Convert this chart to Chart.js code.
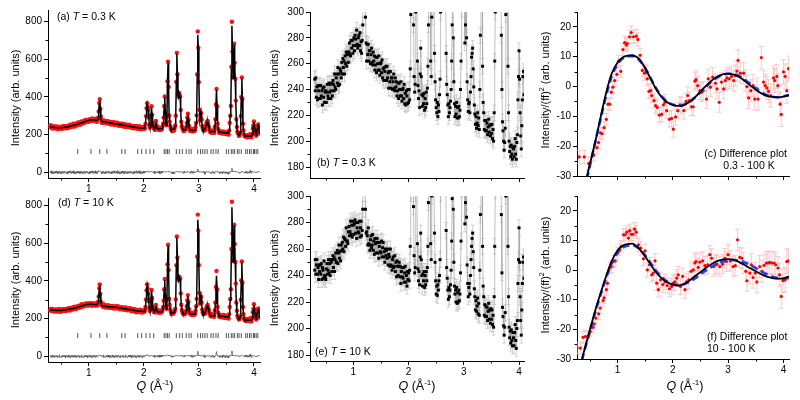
<!DOCTYPE html>
<html>
<head>
<meta charset="utf-8">
<script src="https://cdn.jsdelivr.net/npm/chart.js@4.4.1/dist/chart.umd.min.js"></script>
<style>
  html, body { margin: 0; padding: 0; background: #fff; }
  #fig { position: relative; width: 800px; height: 400px; overflow: hidden; }
  #fig canvas { position: absolute; }
</style>
</head>
<body>
<div id="fig"></div>
<script>
// measurement grid Q (1/Å)
const qGrid = [
  0.30,0.31,0.32,0.33,0.34,0.35,0.36,0.37,0.38,0.39,
  0.40,0.41,0.42,0.43,0.44,0.45,0.46,0.47,0.48,0.49,
  0.50,0.51,0.52,0.53,0.54,0.55,0.56,0.57,0.58,0.59,
  0.60,0.61,0.62,0.63,0.64,0.65,0.66,0.67,0.68,0.69,
  0.70,0.71,0.72,0.73,0.74,0.75,0.76,0.77,0.78,0.79,
  0.80,0.81,0.82,0.83,0.84,0.85,0.86,0.87,0.88,0.89,
  0.90,0.91,0.92,0.93,0.94,0.95,0.96,0.97,0.98,0.99,
  1.00,1.01,1.02,1.03,1.04,1.05,1.06,1.07,1.08,1.09,
  1.10,1.11,1.12,1.13,1.14,1.15,1.16,1.17,1.18,1.19,
  1.20,1.21,1.22,1.23,1.24,1.25,1.26,1.27,1.28,1.29,
  1.30,1.31,1.32,1.33,1.34,1.35,1.36,1.37,1.38,1.39,
  1.40,1.41,1.42,1.43,1.44,1.45,1.46,1.47,1.48,1.49,
  1.50,1.51,1.52,1.53,1.54,1.55,1.56,1.57,1.58,1.59,
  1.60,1.61,1.62,1.63,1.64,1.65,1.66,1.67,1.68,1.69,
  1.70,1.71,1.72,1.73,1.74,1.75,1.76,1.77,1.78,1.79,
  1.80,1.81,1.82,1.83,1.84,1.85,1.86,1.87,1.88,1.89,
  1.90,1.91,1.92,1.93,1.94,1.95,1.96,1.97,1.98,1.99,
  2.00,2.01,2.02,2.03,2.04,2.05,2.06,2.07,2.08,2.09,
  2.10,2.11,2.12,2.13,2.14,2.15,2.16,2.17,2.18,2.19,
  2.20,2.21,2.22,2.23,2.24,2.25,2.26,2.27,2.28,2.29,
  2.30,2.31,2.32,2.33,2.34,2.35,2.36,2.37,2.38,2.39,
  2.40,2.41,2.42,2.43,2.44,2.45,2.46,2.47,2.48,2.49,
  2.50,2.51,2.52,2.53,2.54,2.55,2.56,2.57,2.58,2.59,
  2.60,2.61,2.62,2.63,2.64,2.65,2.66,2.67,2.68,2.69,
  2.70,2.71,2.72,2.73,2.74,2.75,2.76,2.77,2.78,2.79,
  2.80,2.81,2.82,2.83,2.84,2.85,2.86,2.87,2.88,2.89,
  2.90,2.91,2.92,2.93,2.94,2.95,2.96,2.97,2.98,2.99,
  3.00,3.01,3.02,3.03,3.04,3.05,3.06,3.07,3.08,3.09,
  3.10,3.11,3.12,3.13,3.14,3.15,3.16,3.17,3.18,3.19,
  3.20,3.21,3.22,3.23,3.24,3.25,3.26,3.27,3.28,3.29,
  3.30,3.31,3.32,3.33,3.34,3.35,3.36,3.37,3.38,3.39,
  3.40,3.41,3.42,3.43,3.44,3.45,3.46,3.47,3.48,3.49,
  3.50,3.51,3.52,3.53,3.54,3.55,3.56,3.57,3.58,3.59,
  3.60,3.61,3.62,3.63,3.64,3.65,3.66,3.67,3.68,3.69,
  3.70,3.71,3.72,3.73,3.74,3.75,3.76,3.77,3.78,3.79,
  3.80,3.81,3.82,3.83,3.84,3.85,3.86,3.87,3.88,3.89,
  3.90,3.91,3.92,3.93,3.94,3.95,3.96,3.97,3.98,3.99,
  4.00,4.01,4.02,4.03,4.04,4.05,4.06,4.07,4.08,4.09,
  4.10];

// T = 0.3 K observed / calculated
const obs03 = [
  248,239,249,234,242,232,243,239,233,243,
  233,243,235,239,228,241,234,242,230,238,
  239,230,238,244,235,233,245,238,244,233,
  239,245,235,247,244,239,252,242,240,249,
  252,245,257,243,252,244,256,254,249,261,
  252,264,257,262,252,266,260,269,258,267,
  269,261,269,276,267,266,278,272,278,268,
  274,280,270,282,279,274,286,275,272,280,
  282,274,284,270,277,268,278,290,322,368,
  388,338,296,276,262,275,267,275,262,270,
  270,260,267,272,261,259,269,262,266,255,
  259,265,253,265,260,255,266,255,251,260,
  261,253,263,249,256,247,257,254,247,258,
  247,258,249,253,241,254,246,254,241,249,
  249,240,246,252,241,239,249,242,246,235,
  239,245,233,245,240,235,246,235,231,240,
  241,233,244,229,237,228,239,235,229,240,
  230,240,232,256,298,340,366,345,332,290,
  250,238,244,300,350,306,262,243,233,239,
  226,252,272,250,236,227,235,229,237,224,
  233,226,238,229,241,258,290,352,402,318,
  262,250,296,482,586,452,302,268,246,232,
  226,222,230,219,228,223,236,248,300,480,
  633,520,412,400,421,408,403,330,268,244,
  236,228,219,229,222,226,231,240,262,290,
  311,280,246,229,219,227,221,230,218,226,
  218,227,219,224,240,262,302,520,746,660,
  478,330,276,290,315,280,246,232,223,229,
  230,222,238,250,265,268,272,256,242,228,
  221,213,219,210,214,222,212,218,209,240,
  282,360,442,350,258,230,222,209,216,208,
  216,208,214,205,211,217,207,212,204,213,
  206,213,202,209,200,222,262,300,352,560,
  798,640,502,560,682,580,496,380,282,240,
  215,208,200,193,199,210,298,400,503,390,
  258,222,200,192,196,188,197,190,186,195,
  194,188,196,202,190,186,199,205,232,250,
  270,248,222,204,194,212,232,250,254,236,
  205];
const calc03 = [
  243,242,241,240,240,239,239,238,238,237,
  237,236,236,236,236,236,236,236,236,236,
  236,236,237,237,238,238,239,239,240,240,
  241,241,242,242,243,243,244,245,246,246,
  247,248,249,249,250,251,252,253,254,255,
  256,257,258,259,260,261,262,263,264,265,
  266,267,268,269,270,271,272,273,274,275,
  276,276,277,277,278,278,278,278,278,277,
  277,277,276,276,275,275,275,282,318,362,
  384,336,294,274,270,270,269,269,268,268,
  267,266,266,265,264,264,263,263,262,262,
  261,261,260,260,259,259,258,258,257,257,
  256,256,255,255,254,254,253,256,254,252,
  251,251,250,250,249,249,248,248,247,247,
  246,246,245,245,244,244,243,243,242,242,
  241,241,240,240,239,239,238,238,237,237,
  236,236,236,235,235,235,235,234,234,234,
  234,234,234,254,296,338,360,342,328,288,
  248,236,240,298,345,304,260,241,234,233,
  234,250,268,248,234,231,231,231,231,231,
  231,231,231,232,236,256,288,348,398,316,
  260,248,294,478,580,448,298,264,244,232,
  228,227,227,227,228,230,234,246,298,476,
  628,518,408,398,418,406,400,328,266,242,
  234,228,225,224,224,226,230,240,260,288,
  306,278,244,228,224,223,222,222,222,222,
  222,222,222,223,238,260,298,516,728,656,
  476,328,274,288,312,278,244,230,224,222,
  228,232,236,248,262,266,268,254,240,226,
  220,218,217,216,216,216,215,215,215,238,
  278,356,438,346,256,228,220,214,213,213,
  212,212,212,211,211,211,210,210,210,210,
  209,209,209,209,210,222,258,298,348,556,
  776,636,498,556,676,576,492,378,280,238,
  212,205,200,198,199,212,296,398,498,388,
  256,220,200,195,193,192,192,192,192,192,
  192,192,192,192,192,191,193,200,228,248,
  266,246,224,204,196,210,230,248,250,234,
  204];

// T = 10 K observed / calculated
const obs10 = [
  244,252,241,248,252,241,246,237,248,243,
  248,241,249,237,246,244,238,251,240,239,
  237,245,249,241,244,252,242,249,240,252,
  250,243,252,255,246,254,243,252,257,250,
  250,259,249,257,263,253,258,251,263,259,
  265,260,269,258,268,267,262,276,266,266,
  264,273,277,270,273,281,271,278,269,281,
  278,271,279,282,272,280,268,276,280,273,
  272,281,269,276,281,270,274,290,318,362,
  382,332,290,272,273,270,263,276,264,263,
  259,267,270,261,263,271,259,266,256,268,
  264,257,265,268,257,265,253,262,265,258,
  257,266,254,261,265,254,258,250,260,255,
  259,253,260,248,256,254,247,260,248,247,
  244,252,254,246,247,255,243,250,239,251,
  247,240,247,250,239,247,234,243,246,239,
  238,246,235,242,247,235,240,232,243,237,
  242,236,244,262,302,350,382,360,334,292,
  255,242,246,302,352,310,264,245,236,243,
  233,254,272,252,240,232,241,236,243,231,
  240,233,243,236,246,262,295,356,410,322,
  264,252,300,488,592,458,306,272,250,236,
  226,232,225,233,229,236,240,252,302,484,
  636,524,416,405,423,412,414,334,274,246,
  238,229,222,231,224,229,233,244,266,298,
  325,290,250,232,226,229,220,231,219,227,
  220,229,221,226,242,266,305,530,752,668,
  484,336,279,295,316,284,248,234,224,231,
  234,226,240,252,262,268,272,258,246,230,
  224,214,221,213,217,223,211,219,210,244,
  286,368,453,356,262,232,224,210,218,209,
  217,209,216,206,213,219,207,214,204,215,
  207,214,203,210,201,224,262,304,356,570,
  820,652,506,566,699,596,501,386,286,242,
  216,209,202,195,201,212,300,404,503,392,
  262,224,201,193,198,189,199,191,187,197,
  193,187,197,203,191,185,200,206,234,252,
  276,250,224,206,195,214,234,250,254,238,
  206];
const calc10 = [
  247,246,246,246,245,245,245,244,244,244,
  244,243,243,243,243,243,243,243,243,243,
  243,243,244,244,245,245,246,246,247,247,
  248,248,249,249,250,250,251,251,252,252,
  253,253,254,255,256,257,257,258,259,260,
  261,262,263,264,265,266,267,268,269,270,
  270,271,272,273,274,274,275,275,276,276,
  276,276,276,276,276,276,276,275,275,275,
  275,275,274,274,274,274,274,286,314,356,
  378,328,288,272,269,269,268,268,267,267,
  265,265,265,264,264,264,263,263,263,263,
  262,262,262,262,261,261,261,261,260,260,
  260,260,259,259,258,258,257,257,256,256,
  255,255,254,254,253,253,252,252,251,251,
  250,250,249,249,248,248,247,247,246,246,
  245,245,244,244,243,243,242,242,241,241,
  241,240,240,240,240,239,239,239,239,238,
  238,238,239,258,298,346,374,354,330,290,
  252,240,244,298,348,306,262,244,238,238,
  238,252,268,250,238,236,236,236,236,236,
  236,236,237,238,240,260,292,352,404,320,
  262,250,298,482,586,454,302,268,246,234,
  230,229,229,230,232,234,238,250,300,480,
  630,520,412,402,420,410,410,332,270,244,
  236,228,226,226,226,227,230,242,264,294,
  320,286,248,230,225,224,223,223,223,223,
  223,223,223,224,240,262,302,524,725,662,
  480,332,276,292,312,282,246,232,224,222,
  230,232,238,250,260,266,268,256,244,228,
  221,218,217,216,216,216,215,215,215,242,
  282,362,428,352,260,230,221,215,214,213,
  213,212,212,212,212,211,211,211,210,210,
  210,209,209,208,209,220,260,300,352,566,
  791,648,502,562,694,592,497,383,283,240,
  214,206,200,197,198,210,298,400,498,390,
  260,222,200,194,193,192,192,192,191,191,
  191,191,191,191,191,191,194,202,231,250,
  272,248,225,206,197,212,232,248,250,236,
  204];

// Bragg reflection positions
const braggQ = [0.80,1.04,1.20,1.33,1.60,1.66,1.89,1.96,2.04,2.11,2.18,2.37,2.40,2.43,2.46,
  2.59,2.65,2.70,2.77,2.82,2.86,2.98,3.03,3.07,3.11,3.15,3.22,3.26,3.31,3.35,3.50,3.54,
  3.59,3.62,3.65,3.70,3.73,3.77,3.85,3.88,3.92,3.95,3.99,4.01,4.04,4.07];
const braggLevel = 110;
const errZoom = 6;   // error bar in the zoomed panels

// difference 0.3 - 100 K
const qC = [0.31,0.40,0.48,0.57,0.63,0.66,0.69,0.72,0.76,0.80,
  0.83,0.86,0.89,0.92,0.95,0.99,1.02,1.06,1.10,1.13,
  1.16,1.18,1.22,1.25,1.29,1.34,1.37,1.41,1.45,1.49,
  1.52,1.54,1.57,1.60,1.62,1.66,1.69,1.72,1.76,1.80,
  1.83,1.86,1.89,1.94,1.98,2.01,2.05,2.09,2.13,2.16,
  2.20,2.24,2.27,2.30,2.34,2.37,2.40,2.42,2.45,2.49,
  2.52,2.55,2.61,2.64,2.68,2.72,2.77,2.80,2.84,2.88,
  2.92,2.95,2.98,3.02,3.06,3.10,3.13,3.16,3.18,3.22,
  3.28,3.31,3.34,3.37,3.41,3.45,3.48,3.52,3.54,3.60,
  3.64,3.67,3.70,3.73,3.77,3.82,3.84,3.88,3.90,3.94,
  3.96,4.00,4.03,4.06,4.09];
const yC = [-23.6,-23.6,-25.8,-23,-20.5,-18.8,-15.5,-15.8,-13.8,-11,
  -5.9,-5.9,-1.9,-0.2,2.0,4.1,8.5,5.1,12.4,14.7,
  13.9,14.4,16.7,18.1,16.7,16.9,15.8,10.5,5.4,4.5,
  4.9,2.6,-1.6,-1.4,-3,-4.7,-6.4,-7,-9.6,-9.3,
  -6.1,-5.3,-8.1,-11,-10.7,-14.3,-10.2,-8.1,-6.1,-6.4,
  -8.1,-5,-3,-4.7,-6.8,-6.8,1.8,2.3,0.3,-1.4,
  -1.9,-1.4,-4.2,2.6,-0.2,3.2,1.1,-0.8,-5.3,1.5,
  -0.8,2,2.9,2.6,3.4,2,3.7,5.2,8.8,4.5,
  4.5,2,0,-3.8,-1.4,0.3,-4.2,-0.8,-4.2,9.7,
  1.5,0.3,-0.5,-1.6,-3,2.9,2,3.4,0.3,-5.9,
  -9.3,4.9,3.4,-1.4,6];
const eC = [2.2,2.2,2.2,2.0,2.0,2.0,2.0,2.0,2.0,2.0,
  2.0,2.0,2.0,2.0,2.0,2.0,2.0,2.0,2.0,2.2,
  2.2,2.2,2.2,2.2,2.2,2.2,2.2,2.2,2.2,2.4,
  2.4,2.4,2.4,2.4,2.4,2.5,2.5,2.5,2.5,2.5,
  2.6,2.6,2.6,2.6,2.7,2.7,2.7,2.7,2.8,2.8,
  2.8,2.8,2.9,2.9,2.9,3.0,3.0,3.0,3.0,3.0,
  3.1,3.1,3.1,3.2,3.2,3.2,3.2,3.3,3.3,3.3,
  3.3,3.4,3.4,3.4,3.4,3.5,3.5,3.5,3.5,3.5,
  3.6,3.6,3.6,3.6,3.7,3.7,3.7,3.7,3.8,3.8,
  3.8,3.8,3.9,3.9,3.9,4.0,4.0,4.0,4.0,4.1,
  4.1,4.1,4.2,4.2,4.2];
const qFitC = [0.45,0.5,0.6,0.7,0.8,0.9,1.0,1.1,1.2,1.27,1.35,1.4,1.5,1.6,1.7,1.8,1.9,2.0,2.1,2.2,
  2.3,2.4,2.5,2.6,2.7,2.8,2.9,3.0,3.1,3.2,3.3,3.4,3.5,3.6,3.7,3.8,3.9,4.0,4.1];
const blackC = [-30,-26.2,-18.5,-10,-1.8,4.5,8.0,9.8,10.4,10.5,9.9,9.1,6.2,2.6,-0.9,-3.6,-5.3,-6.2,-6.5,-6.2,
  -5.2,-3.6,-1.7,0.2,2.0,3.3,4.1,4.3,4.0,3.2,1.9,0.4,-1.1,-2.3,-3.1,-3.5,-3.6,-3.4,-2.9];
const blueC = [-31,-26.8,-18.6,-10.6,-2.8,3.6,7.4,9.5,10.2,10.2,9.6,8.8,6.2,2.8,-0.6,-3.3,-5.1,-6.0,-6.3,-6.1,
  -5.2,-3.7,-1.9,-0.1,1.7,3.0,3.9,4.3,4.2,3.5,2.3,0.9,-0.6,-1.9,-2.9,-3.4,-3.6,-3.3,-2.8];

// difference 10 - 100 K
const qF = [0.27,0.33,0.38,0.42,0.46,0.51,0.56,0.58,0.61,0.66,
  0.69,0.74,0.76,0.80,0.82,0.86,0.89,0.93,0.96,1.00,
  1.04,1.07,1.11,1.14,1.17,1.20,1.22,1.25,1.28,1.31,
  1.34,1.38,1.42,1.47,1.50,1.54,1.58,1.62,1.65,1.68,
  1.71,1.74,1.78,1.82,1.86,1.90,1.94,1.98,2.01,2.04,
  2.07,2.10,2.14,2.18,2.22,2.25,2.29,2.33,2.37,2.40,
  2.42,2.46,2.49,2.54,2.58,2.63,2.67,2.70,2.74,2.78,
  2.80,2.85,2.90,2.94,2.97,3.00,3.04,3.09,3.13,3.17,
  3.21,3.25,3.27,3.32,3.34,3.39,3.42,3.45,3.49,3.52,
  3.57,3.61,3.65,3.69,3.72,3.75,3.79,3.83,3.86,3.90,
  3.93,3.96,3.99,4.03,4.06,4.09];
const yF = [-26.3,-26.3,-22.7,-22.4,-22.4,-20.7,-19.3,-18.2,-16.2,-14.8,
  -12.8,-10.3,-9.4,-6.6,-4.4,0.7,1.2,2.9,3.1,5.7,
  6.9,8.0,11.9,11.9,12.8,10.8,13.3,12.1,12.1,13.8,
  12.8,8.5,7.4,3.8,6.5,0.1,1.8,-1.6,-1.0,3.1,
  -4.4,-6.6,-3.3,-4.9,-4.0,-5.2,-6.3,-5.5,-4.4,-4.0,
  -2.7,-1.6,-5.5,-2.1,-6.6,-4.0,-3.3,-0.4,0.1,2.4,
  2.9,0.9,2.7,3.1,1.5,1.8,5.2,4.0,1.2,1.8,
  2.0,1.2,2.0,4.0,2.9,5.2,3.1,1.2,1.5,10.2,
  4.3,4.0,2.4,-0.4,-3.6,-1.0,1.8,-2.5,-1.0,-4.0,
  1.2,-0.4,1.6,2.4,2.4,2.6,2.4,2.4,1.8,0.7,
  -1.6,-8.9,-3.6,-3.3,2.9,3.1];
const eF = [2.0,2.0,2.0,2.0,1.9,1.9,1.9,1.9,1.9,1.9,
  1.9,1.9,1.9,1.9,1.9,1.9,2.0,2.0,2.0,2.0,
  2.0,2.0,2.1,2.1,2.1,2.1,2.2,2.2,2.2,2.2,
  2.2,2.3,2.3,2.3,2.3,2.4,2.4,2.4,2.5,2.5,
  2.5,2.5,2.6,2.6,2.6,2.6,2.7,2.7,2.7,2.7,
  2.8,2.8,2.8,2.8,2.9,2.9,2.9,2.9,3.0,3.0,
  3.0,3.0,3.0,3.1,3.1,3.1,3.1,3.2,3.2,3.2,
  3.2,3.3,3.3,3.3,3.3,3.4,3.4,3.4,3.4,3.6,
  3.4,3.5,3.5,3.5,3.5,3.6,3.6,3.6,3.6,3.7,
  3.7,3.7,3.7,3.8,3.8,3.8,3.8,3.9,3.9,3.9,
  4.0,4.0,4.0,4.1,4.1,4.1];
const qFitF = [0.36,0.4,0.5,0.6,0.7,0.8,0.9,1.0,1.1,1.2,1.26,1.3,1.4,1.5,1.6,1.7,1.8,1.9,2.0,2.1,
  2.2,2.3,2.4,2.5,2.6,2.7,2.8,2.9,3.0,3.1,3.2,3.3,3.4,3.5,3.6,3.7,3.8,3.9,4.0,4.1];
const blackF = [-30,-27.2,-20.3,-13.6,-7.6,-1.8,3.2,6.6,8.3,8.8,8.9,8.7,7.1,4.6,1.9,-0.8,-2.8,-4.1,-4.9,-5.2,
  -4.7,-3.6,-2.0,-0.7,0.8,2.0,3.0,3.5,3.7,3.5,2.7,1.7,0.6,-0.4,-1.4,-2.2,-2.7,-2.9,-2.8,-2.1];
const blueF = [-30.5,-27.5,-21,-14.2,-8,-2.4,2.4,5.8,7.6,8.3,8.4,8.3,7.1,5,2.4,-0.3,-2.4,-3.9,-4.7,-5.0,
  -4.8,-4.0,-2.8,-1.4,-0.1,1.1,2.1,2.8,3.2,3.4,3.2,2.6,1.7,0.7,-0.4,-1.4,-2.2,-2.7,-2.9,-2.7];

// sanity check on the hand-typed tables
[[obs03, qGrid], [calc03, qGrid], [obs10, qGrid], [calc10, qGrid], [yC, qC], [eC, qC], [blackC, qFitC],
 [blueC, qFitC], [yF, qF], [eF, qF], [blackF, qFitF], [blueF, qFitF]].forEach((pair, k) => {
  if (pair[0].length !== pair[1].length) throw new Error('table ' + k + ': ' + pair[0].length + ' vs ' + pair[1].length);
});

const FONT = '"Liberation Sans", Arial, Helvetica, sans-serif';

const pts = (xs, ys) => xs.map((x, i) => ({ x: x, y: ys[i] }));
const diff = (a, b) => a.map((v, i) => v - b[i]);

// error bars drawn behind the points, through the chart scales
const errorBars = {
  id: 'errorBars',
  beforeDatasetsDraw(chart) {
    const { ctx, chartArea: a, scales } = chart;
    ctx.save();
    ctx.beginPath();
    ctx.rect(a.left, a.top, a.right - a.left, a.bottom - a.top);
    ctx.clip();
    chart.data.datasets.forEach(ds => {
      if (ds.errors === undefined) return;
      ctx.strokeStyle = ds.errorColor;
      ctx.lineWidth = 0.8;
      ds.data.forEach((d, i) => {
        const e = Array.isArray(ds.errors) ? ds.errors[i] : ds.errors;
        const px = scales.x.getPixelForValue(d.x);
        const y1 = scales.y.getPixelForValue(d.y - e);
        const y2 = scales.y.getPixelForValue(d.y + e);
        const c = ds.errorCap;
        ctx.beginPath();
        ctx.moveTo(px, y1); ctx.lineTo(px, y2);
        ctx.moveTo(px - c, y1); ctx.lineTo(px + c, y1);
        ctx.moveTo(px - c, y2); ctx.lineTo(px + c, y2);
        ctx.stroke();
      });
    });
    ctx.restore();
  }
};

function drawRich(ctx, t, ox, oy) {
  const fontOf = p => (p.it ? 'italic ' : '') + (p.sup ? t.size * 0.65 : t.size) + 'px ' + FONT;
  let total = 0;
  t.parts.forEach(p => { ctx.font = fontOf(p); total += ctx.measureText(p.s).width; });
  ctx.save();
  ctx.translate(t.x - ox, t.y - oy);
  if (t.rot) ctx.rotate(-Math.PI / 2);
  let x0 = t.align === 'center' ? -total / 2 : (t.align === 'right' ? -total : 0);
  ctx.fillStyle = '#000';
  ctx.textAlign = 'left';
  ctx.textBaseline = 'middle';
  t.parts.forEach(p => {
    ctx.font = fontOf(p);
    ctx.fillText(p.s, x0, p.sup ? -t.size * 0.35 : 0);
    x0 += ctx.measureText(p.s).width;
  });
  ctx.restore();
}

// minor ticks and panel texts
function decor(p, ox, oy) {
  return {
    id: 'decor',
    afterDraw(chart) {
      const { ctx, scales } = chart;
      ctx.save();
      ctx.strokeStyle = '#000';
      ctx.lineWidth = 1;
      p.minorX.forEach(v => {
        const px = Math.round(scales.x.getPixelForValue(v)) + 0.5;
        ctx.beginPath(); ctx.moveTo(px, scales.x.top); ctx.lineTo(px, scales.x.top + 2.5); ctx.stroke();
      });
      p.minorY.forEach(v => {
        const py = Math.round(scales.y.getPixelForValue(v)) + 0.5;
        ctx.beginPath(); ctx.moveTo(scales.y.right, py); ctx.lineTo(scales.y.right - 2.5, py); ctx.stroke();
      });
      ctx.restore();
      p.texts.forEach(t => drawRich(ctx, t, ox, oy));
    }
  };
}

function axis(min, max, step, labels, fit, pad) {
  const ticks = { stepSize: step, includeBounds: false, autoSkip: false, maxRotation: 0,
    color: '#000', padding: pad, font: { family: FONT, size: 10 } };
  if (!labels) ticks.callback = () => '';
  return {
    type: 'linear', min: min, max: max,
    border: { display: true, color: '#000', width: 1 },
    grid: { drawOnChartArea: false, drawTicks: true, tickLength: 4, color: '#000', lineWidth: 1 },
    ticks: ticks,
    afterFit: fit
  };
}

function makePanel(p) {
  const a = p.area;
  const cx = a.l - p.padL, cy = a.t - p.padT;
  const cv = document.createElement('canvas');
  cv.width = a.r - a.l + p.padL + p.padR;
  cv.height = a.b - a.t + p.padT + p.padB;
  cv.style.left = cx + 'px';
  cv.style.top = cy + 'px';
  document.getElementById('fig').appendChild(cv);
  new Chart(cv, {
    type: 'scatter',
    data: { datasets: p.datasets },
    options: {
      responsive: false, animation: false, devicePixelRatio: 1,
      layout: { padding: { left: 0, top: p.padT, right: p.padR, bottom: 0 } },
      plugins: { legend: { display: false }, tooltip: { enabled: false } },
      scales: {
        x: axis(p.x[0], p.x[1], 1, p.xLabels, s => { s.height = p.padB; }, 1),
        y: axis(p.y[0], p.y[1], p.y[2], true, s => { s.width = p.padL; }, 2)
      }
    },
    plugins: [errorBars, decor(p, cx, cy)]
  });
}

const tempLabel = (x, y, letter, temp) => ({ x: x, y: y, size: 10.5,
  parts: [{ s: '(' + letter + ') ' }, { s: 'T', it: true }, { s: ' = ' + temp + ' K' }] });
const yTitle = (x, y) => ({ x: x, y: y, size: 11, rot: true, align: 'center',
  parts: [{ s: 'Intensity (arb. units)' }] });
const yTitleF = (x, y) => ({ x: x, y: y, size: 11, rot: true, align: 'center',
  parts: [{ s: 'Intensity/(ff)' }, { s: '2', sup: true }, { s: ' (arb. units)' }] });
const qTitle = x => ({ x: x, y: 387, size: 12.5, align: 'center',
  parts: [{ s: 'Q', it: true }, { s: ' (Å' }, { s: '-1', sup: true }, { s: ')' }] });

function fullSets(obs, calc) {
  return [
    { data: pts(qGrid, calc), showLine: true, borderColor: '#000', borderWidth: 1.5, pointRadius: 0, order: 0 },
    { data: pts(qGrid, obs), showLine: false, pointRadius: 2.2, backgroundColor: '#ff1010', borderWidth: 0, order: 1 },
    { data: braggQ.map(q => ({ x: q, y: braggLevel })), showLine: false, pointStyle: 'line', rotation: 90,
      pointRadius: 2.5, borderColor: '#555', borderWidth: 1, order: 2 },
    { data: pts(qGrid, diff(obs, calc)), showLine: true, borderColor: '#555', borderWidth: 0.8, pointRadius: 0, order: 3 }
  ];
}
function zoomSets(obs) {
  return [
    { data: pts(qGrid, obs), showLine: true, borderColor: '#a8a8a8', borderWidth: 0.7,
      pointStyle: 'rect', pointRadius: 2.1, pointBackgroundColor: '#000', pointBorderWidth: 0,
      errors: errZoom, errorColor: '#c6c6c6', errorCap: 1.8 }
  ];
}
function diffSets(q, y, e, qFit, black, blue) {
  return [
    { data: pts(qFit, black), showLine: true, borderColor: '#000', borderWidth: 1.8, pointRadius: 0,
      cubicInterpolationMode: 'monotone', order: 0 },
    { data: pts(qFit, blue), showLine: true, borderColor: '#1d3cff', borderWidth: 2.6, borderDash: [7, 4],
      pointRadius: 0, cubicInterpolationMode: 'monotone', order: 1 },
    { data: pts(q, y), showLine: false, pointRadius: 1.6, backgroundColor: '#ff0000', borderWidth: 0,
      errors: e, errorColor: '#f7bcbc', errorCap: 2.5, order: 2 }
  ];
}

const minorQ = [0.5, 1.5, 2.5, 3.5];

// (a)
makePanel({ area: { l: 48, t: 10, r: 261, b: 178 }, padL: 48, padT: 10, padR: 4, padB: 17,
  x: [0.26, 4.11], y: [-30, 860, 200], xLabels: true, minorX: minorQ, minorY: [100, 300, 500, 700],
  datasets: fullSets(obs03, calc03), texts: [tempLabel(57, 17, 'a', '0.3'), yTitle(16, 98)] });
// (b)
makePanel({ area: { l: 310, t: 12, r: 524, b: 178 }, padL: 45, padT: 12, padR: 11, padB: 17,
  x: [0.215, 4.09], y: [171.5, 300, 20], xLabels: false, minorX: minorQ,
  minorY: [190, 210, 230, 250, 270, 290], datasets: zoomSets(obs03),
  texts: [tempLabel(317, 163, 'b', '0.3'), yTitle(275, 98)] });
// (c)
makePanel({ area: { l: 577, t: 12, r: 789, b: 176 }, padL: 42, padT: 12, padR: 11, padB: 19,
  x: [0.27, 4.10], y: [-30, 25, 10], xLabels: false, minorX: minorQ,
  minorY: [-25, -15, -5, 5, 15, 25], datasets: diffSets(qC, yC, eC, qFitC, blackC, blueC),
  texts: [
    { x: 787, y: 154, size: 10.5, align: 'right', parts: [{ s: '(c) Difference plot' }] },
    { x: 749, y: 166, size: 10.5, align: 'center', parts: [{ s: '0.3 - 100 K' }] },
    yTitleF(546, 90)] });
// (d)
makePanel({ area: { l: 48, t: 198, r: 261, b: 362 }, padL: 48, padT: 13, padR: 4, padB: 38,
  x: [0.26, 4.11], y: [-30, 840, 200], xLabels: true, minorX: minorQ, minorY: [100, 300, 500, 700],
  datasets: fullSets(obs10, calc10), texts: [tempLabel(58, 203, 'd', '10'), yTitle(16, 280), qTitle(155)] });
// (e)
makePanel({ area: { l: 310, t: 196, r: 524, b: 361 }, padL: 45, padT: 11, padR: 11, padB: 39,
  x: [0.215, 4.09], y: [175.5, 300, 20], xLabels: true, minorX: minorQ,
  minorY: [190, 210, 230, 250, 270, 290], datasets: zoomSets(obs10),
  texts: [tempLabel(315, 352, 'e', '10'), yTitle(275, 278), qTitle(417)] });
// (f)
makePanel({ area: { l: 577, t: 196, r: 789, b: 359 }, padL: 42, padT: 11, padR: 11, padB: 41,
  x: [0.27, 4.10], y: [-30, 25, 10], xLabels: true, minorX: minorQ,
  minorY: [-25, -15, -5, 5, 15, 25], datasets: diffSets(qF, yF, eF, qFitF, blackF, blueF),
  texts: [
    { x: 707, y: 337, size: 10.5, parts: [{ s: '(f) Difference plot' }] },
    { x: 707, y: 349, size: 10.5, parts: [{ s: '10 - 100 K' }] },
    yTitleF(546, 275), qTitle(685)] });
</script>
</body>
</html>
